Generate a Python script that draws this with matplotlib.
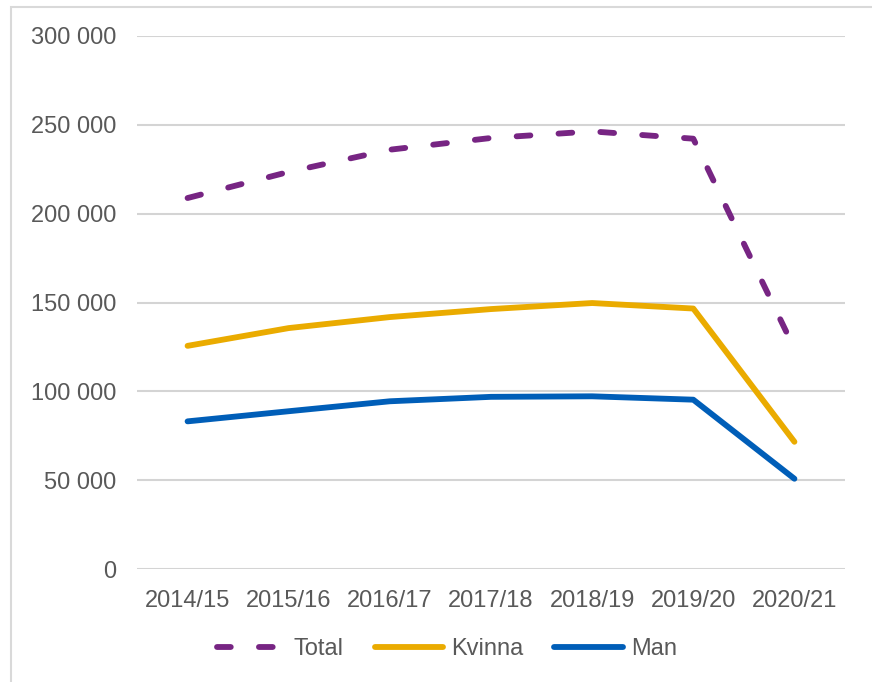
import matplotlib
matplotlib.use("Agg")
import matplotlib.pyplot as plt
from matplotlib.patches import Rectangle
from matplotlib.ticker import FuncFormatter, MultipleLocator

# Data
years = ["2014/15", "2015/16", "2016/17", "2017/18", "2018/19", "2019/20", "2020/21"]
total = [208800, 223500, 236000, 242600, 246300, 242200, 124000]
kvinna = [125600, 135600, 141800, 146300, 149700, 146600, 71600]
man = [83100, 88800, 94400, 96900, 97200, 95300, 50800]

PURPLE = "#772583"
GOLD = "#EAAB00"
BLUE = "#005EB8"
GRID = "#D9D9D9"
TEXT = "#595959"

plt.rcParams['font.family'] = ['Liberation Sans', 'DejaVu Sans']

W, H = 872, 682
fig = plt.figure(figsize=(W / 100, H / 100), dpi=100)
ax = fig.add_axes([137 / W, 1 - 569 / H, (845 - 137) / W, (569 - 36) / H])

# light chart-area border (cropped on right and bottom)
fig.patches.append(Rectangle((11 / W, -0.1), 1.2, 1 - 7 / H + 0.1,
                             transform=fig.transFigure, fill=False,
                             edgecolor=GRID, linewidth=1.5))

x = list(range(len(years)))
lw = 4.2
ax.plot(x, total, color=PURPLE, lw=lw, ls=(0, (2.36, 4.83)),
        dash_capstyle='round', solid_capstyle='round', label="Total")
ax.plot(x, kvinna, color=GOLD, lw=lw, solid_capstyle='round',
        solid_joinstyle='round', label="Kvinna")
ax.plot(x, man, color=BLUE, lw=lw, solid_capstyle='round',
        solid_joinstyle='round', label="Man")

ax.set_xlim(-0.5, len(years) - 0.5)
ax.set_ylim(0, 300000)
ax.yaxis.set_major_locator(MultipleLocator(50000))
ax.yaxis.set_major_formatter(FuncFormatter(lambda v, p: f"{v:,.0f}".replace(",", " ")))
ax.set_xticks(x)
ax.set_xticklabels(years)

ax.grid(axis='y', color="#D4D4D4", linewidth=1.5)
ax.set_axisbelow(True)
for s in ax.spines.values():
    s.set_visible(False)
ax.tick_params(axis='both', length=0, labelsize=17, labelcolor=TEXT)
ax.tick_params(axis='y', pad=15)
ax.tick_params(axis='x', pad=15)

leg = fig.legend(loc='center', bbox_to_anchor=(447 / W, 1 - 649 / H), ncol=3,
                 frameon=False, fontsize=17, handlelength=2.9,
                 handletextpad=0.35, columnspacing=1.3, labelcolor=TEXT)

fig.savefig("out.png", dpi=100)
